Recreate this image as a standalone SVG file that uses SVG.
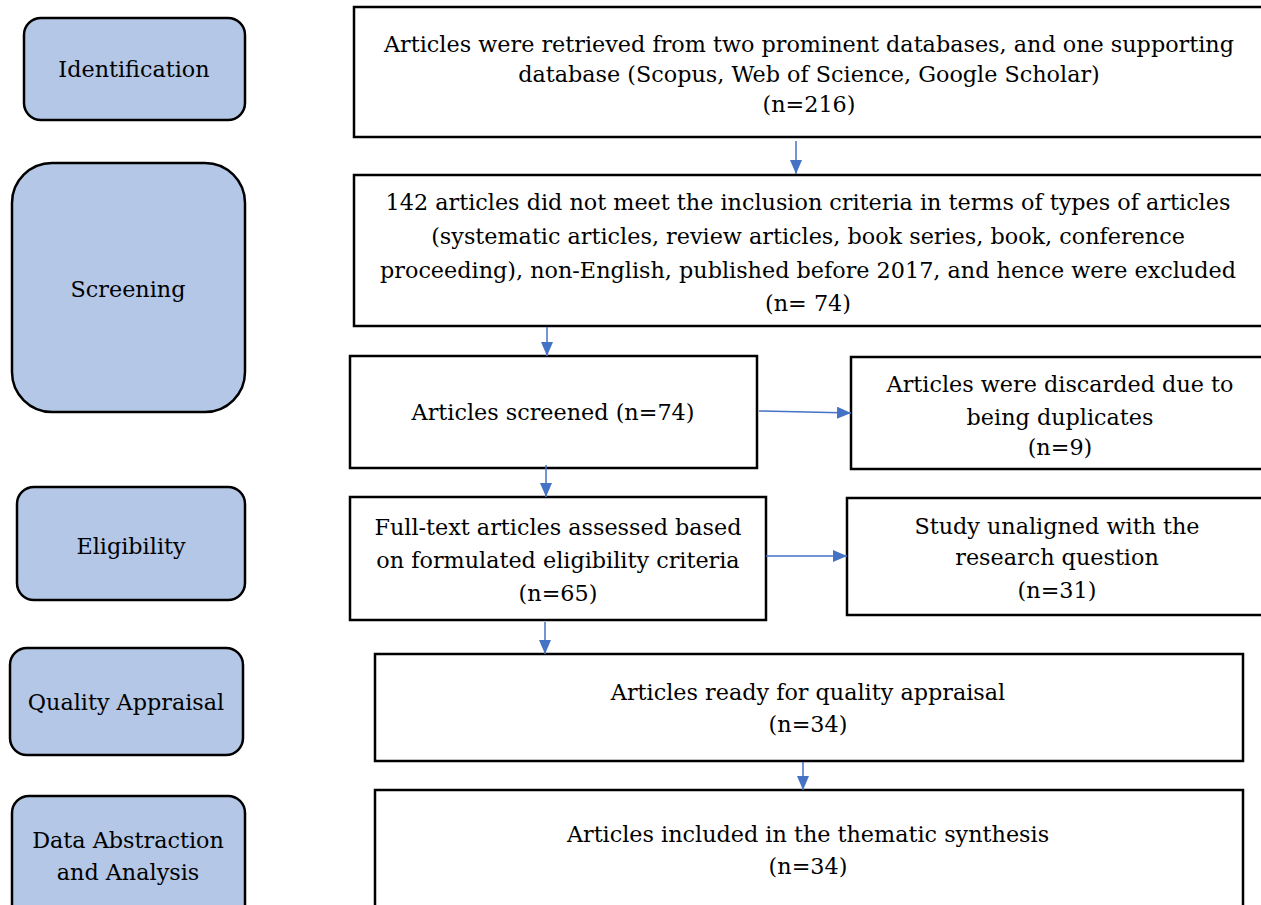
<svg xmlns="http://www.w3.org/2000/svg" width="1261" height="905" viewBox="0 0 1261 905">
<style>
.phase{fill:#b4c7e7;stroke:#000;stroke-width:2.5}
.box{fill:#fff;stroke:#000;stroke-width:2.5}
text{font-family:"DejaVu Serif","Liberation Serif",serif;font-size:22.3px;fill:#000;text-anchor:middle}
.conn{stroke:#4472c4;stroke-width:1.5;fill:none;marker-end:url(#ah)}
</style>
<defs>
<marker id="ah" viewBox="0 0 14 12" refX="14" refY="6" markerWidth="14" markerHeight="12" markerUnits="userSpaceOnUse" orient="auto">
<path d="M0,0 L14,6 L0,12 Z" fill="#4472c4"/>
</marker>
</defs>
<rect width="1261" height="905" fill="#fff"/>

<g id="phase-identification"><rect class="phase" x="24" y="18" width="221" height="102" rx="17"/><text x="134" y="77">Identification</text></g>
<g id="phase-screening"><rect class="phase" x="12" y="163" width="233" height="249" rx="40"/><text x="128" y="297">Screening</text></g>
<g id="phase-eligibility"><rect class="phase" x="17" y="487" width="228" height="113" rx="17"/><text x="131" y="554">Eligibility</text></g>
<g id="phase-quality"><rect class="phase" x="10" y="648" width="233" height="107" rx="17"/><text x="126" y="710">Quality Appraisal</text></g>
<g id="phase-data"><rect class="phase" x="12" y="796" width="233" height="130" rx="17"/><text x="128" y="848">Data Abstraction</text><text x="128" y="880">and Analysis</text></g>

<g id="box-retrieved"><rect class="box" x="354" y="7" width="920" height="130"/>
<text x="809" y="52">Articles were retrieved from two prominent databases, and one supporting</text>
<text x="809" y="82">database (Scopus, Web of Science, Google Scholar)</text>
<text x="809" y="112">(n=216)</text></g>

<g id="box-excluded"><rect class="box" x="354" y="175" width="920" height="151"/>
<text x="808" y="210">142 articles did not meet the inclusion criteria in terms of types of articles</text>
<text x="808" y="244">(systematic articles, review articles, book series, book, conference</text>
<text x="808" y="278">proceeding), non-English, published before 2017, and hence were excluded</text>
<text x="808" y="311">(n= 74)</text></g>

<g id="box-screened"><rect class="box" x="350" y="356" width="407" height="112"/>
<text x="553" y="420">Articles screened (n=74)</text></g>

<g id="box-duplicates"><rect class="box" x="851" y="357" width="420" height="112"/>
<text x="1060" y="392">Articles were discarded due to</text>
<text x="1060" y="425">being duplicates</text>
<text x="1060" y="455">(n=9)</text></g>

<g id="box-fulltext"><rect class="box" x="350" y="497" width="416" height="123"/>
<text x="558" y="535">Full-text articles assessed based</text>
<text x="558" y="568">on formulated eligibility criteria</text>
<text x="558" y="601">(n=65)</text></g>

<g id="box-unaligned"><rect class="box" x="847" y="498" width="424" height="117"/>
<text x="1057" y="534">Study unaligned with the</text>
<text x="1057" y="565">research question</text>
<text x="1057" y="598">(n=31)</text></g>

<g id="box-quality"><rect class="box" x="375" y="654" width="868" height="107"/>
<text x="808" y="700">Articles ready for quality appraisal</text>
<text x="808" y="732">(n=34)</text></g>

<g id="box-included"><rect class="box" x="375" y="790" width="868" height="140"/>
<text x="808" y="842">Articles included in the thematic synthesis</text>
<text x="808" y="874">(n=34)</text></g>

<g id="connectors">
<line class="conn" x1="796" y1="141" x2="796" y2="174"/>
<line class="conn" x1="547" y1="327" x2="547" y2="356"/>
<line class="conn" x1="759" y1="411" x2="851" y2="413"/>
<line class="conn" x1="546" y1="465" x2="546" y2="497"/>
<line class="conn" x1="766" y1="556" x2="847" y2="556"/>
<line class="conn" x1="545" y1="622" x2="545" y2="654"/>
<line class="conn" x1="803" y1="762" x2="803" y2="790"/>
</g>
</svg>
